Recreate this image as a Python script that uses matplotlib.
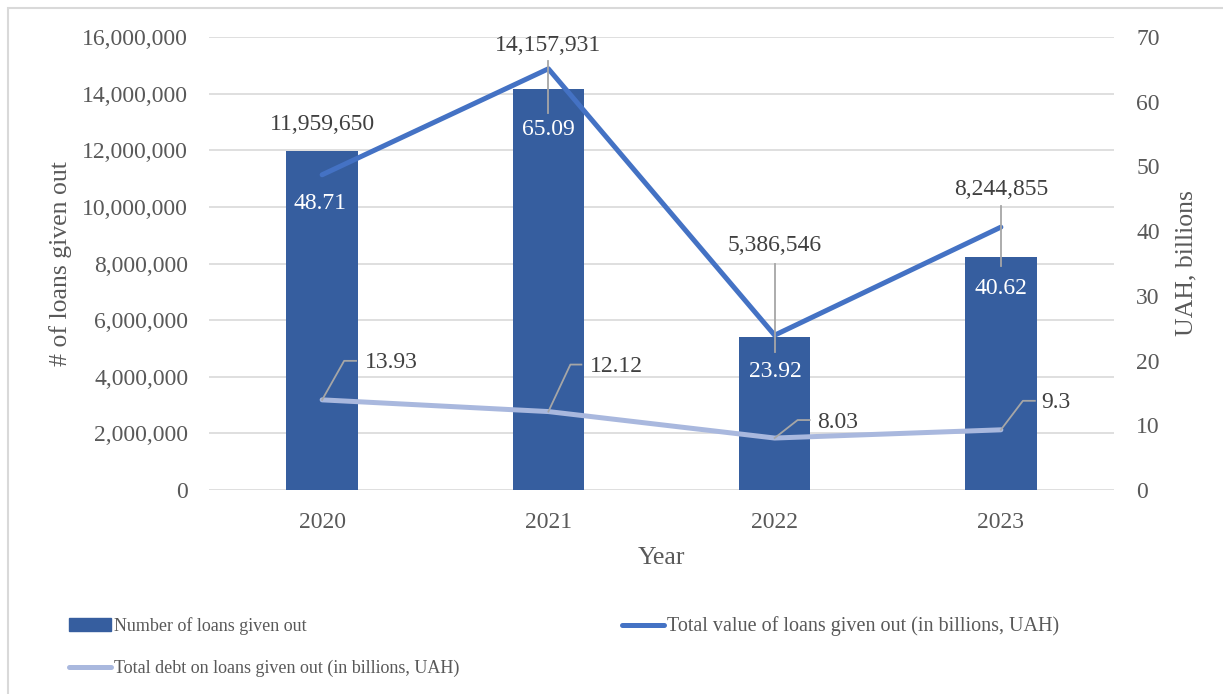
import matplotlib
matplotlib.use("Agg")
import matplotlib.pyplot as plt
from matplotlib.patches import Rectangle
from matplotlib.lines import Line2D
from matplotlib.transforms import offset_copy
from matplotlib.ticker import FuncFormatter, MultipleLocator

plt.rcParams['font.family'] = ['Liberation Serif', 'DejaVu Serif']

years = ["2020", "2021", "2022", "2023"]
loans_count = [11959650, 14157931, 5386546, 8244855]
loans_value = [48.71, 65.09, 23.92, 40.62]
loans_debt = [13.93, 12.12, 8.03, 9.3]

BAR_C = "#365E9F"
VAL_C = "#4472C4"
DEBT_C = "#A9B8DE"
GRID_C = "#D9D9D9"
TICK_C = "#595959"
LABEL_C = "#404040"
LEADER_C = "#A6A6A6"
FS = 17
LEG_FS = 13

W, H = 1223, 694
fig = plt.figure(figsize=(W / 100, H / 100), dpi=100)
ax = fig.add_axes([209 / W, 1 - 490 / H, (1114 - 209) / W, (490 - 37) / H])
ax2 = ax.twinx()

x = list(range(len(years)))
ax.bar(x, loans_count, width=0.315, color=BAR_C, zorder=2)
ax.set_xlim(-0.5, len(years) - 0.5)
ax.set_ylim(0, 16000000)
ax.yaxis.set_major_locator(MultipleLocator(2000000))
ax.yaxis.set_major_formatter(FuncFormatter(lambda v, p: f"{int(v):,}"))
ax.grid(axis='y', color=GRID_C, lw=1.2, zorder=0)
ax.set_axisbelow(True)

ax2.plot(x, loans_value, color=VAL_C, lw=3.6, solid_capstyle='round', zorder=3)
ax2.plot(x, loans_debt, color=DEBT_C, lw=3.6, solid_capstyle='round', zorder=3)
ax2.set_ylim(0, 70)
ax2.yaxis.set_major_locator(MultipleLocator(10))

for a in (ax, ax2):
    for s in a.spines.values():
        s.set_visible(False)
    a.tick_params(length=0, labelsize=FS, labelcolor=TICK_C)
ax.tick_params(axis='y', pad=15)
ax2.tick_params(axis='y', pad=16)
ax.tick_params(axis='x', pad=16)
ax.set_xticks(x)
ax.set_xticklabels(years)

ax.set_ylabel("# of loans given out", fontsize=FS + 1.5, color=TICK_C)
ax.yaxis.set_label_coords(-0.151, 0.5)
ax2.set_ylabel("UAH, billions", fontsize=FS + 1.5, color=TICK_C)
ax2.yaxis.set_label_coords(1.0674, 0.5)
ax.set_xlabel("Year", fontsize=FS + 1.5, color=TICK_C)
ax.xaxis.set_label_coords(0.5, -0.126)


def px(a, dx, dy):
    return offset_copy(a.transData, fig=fig, x=dx, y=dy, units='dots')


# bar count labels, offset upward from each bar top
count_off = [27, 44, 92, 67]
for i, (v, o) in enumerate(zip(loans_count, count_off)):
    ax.text(i, v, f"{v:,}", transform=px(ax, 0, o), ha='center', va='center',
            fontsize=FS, color=LABEL_C, zorder=6)

# value labels below the value line points
value_off = [(-2, -29), (0, -61), (1, -36), (0, -61)]
for i, (v, (dx, dy)) in enumerate(zip(loans_value, value_off)):
    ax2.text(i, v, f"{v:g}", transform=px(ax2, dx, dy), ha='center', va='center',
             fontsize=FS, color='white', zorder=6)

# vertical leaders between count and value labels
leaders = {1: (8, -44), 2: (71, -17), 3: (21, -39)}
for i, (top, bot) in leaders.items():
    p0 = px(ax2, 0, top).transform((i, loans_value[i]))
    p1 = px(ax2, 0, bot).transform((i, loans_value[i]))
    fig.add_artist(Line2D([p0[0] / W, p1[0] / W], [p0[1] / H, p1[1] / H],
                          color=LEADER_C, lw=1.3, zorder=5,
                          transform=fig.transFigure))

# debt labels with elbow leaders
debt_geom = [(22, 39, 34, 43), (22, 47, 33, 42), (23, 18, 35, 42), (22, 29, 34, 40)]
for i, (v, (ex, ey, hx, tx)) in enumerate(zip(loans_debt, debt_geom)):
    base = ax2.transData.transform((i, v))
    xs = [base[0], base[0] + ex, base[0] + hx]
    ys = [base[1], base[1] + ey, base[1] + ey]
    fig.add_artist(Line2D([q / W for q in xs], [q / H for q in ys],
                          color=LEADER_C, lw=1.3, zorder=5,
                          transform=fig.transFigure))
    ax2.text(i, v, f"{v:g}", transform=px(ax2, tx, ey - 2), ha='left', va='center',
             fontsize=FS, color=LABEL_C, zorder=6)

# legend
h_bar = Rectangle((0, 0), 1, 1, color=BAR_C)
h_val = Line2D([], [], color=VAL_C, lw=3.6, solid_capstyle='round')
h_debt = Line2D([], [], color=DEBT_C, lw=3.6, solid_capstyle='round')
leg = fig.legend([h_bar, h_debt, h_val],
                 ["Number of loans given out",
                  "Total debt on loans given out (in billions, UAH)",
                  "Total value of loans given out (in billions, UAH)"],
                 ncol=2, loc='upper left', bbox_to_anchor=(69 / W, 1 - 616 / H),
                 frameon=False, fontsize=LEG_FS, borderpad=0, borderaxespad=0,
                 handlelength=2.3, handletextpad=0.2, columnspacing=9.0,
                 labelspacing=1.38, labelcolor=TICK_C)
leg.get_texts()[2].set_fontsize(14.5)

# outer frame
fig.add_artist(Rectangle((8 / W, -0.1), 1.2, 1.1 - 8 / H, transform=fig.transFigure,
                         fill=False, edgecolor=GRID_C, lw=1.5))

fig.savefig("out.png", dpi=100)
